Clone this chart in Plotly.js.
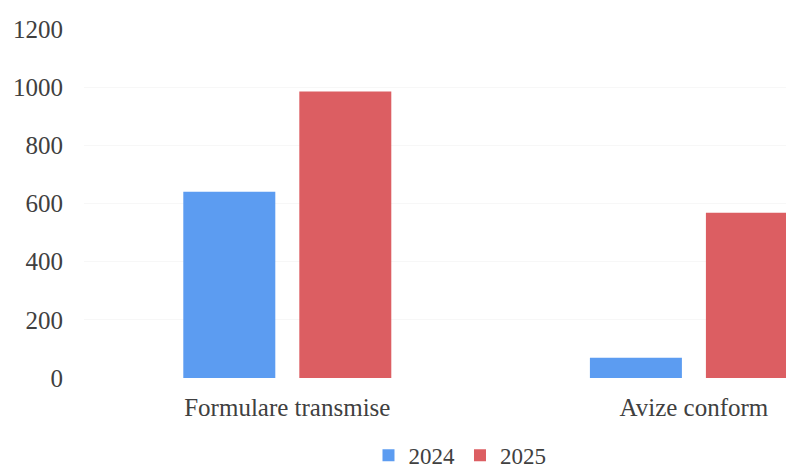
<!DOCTYPE html>
<html>
<head>
<meta charset="utf-8">
<script src="https://cdn.plot.ly/plotly-3.0.1.min.js"></script>
<style>
  html, body { margin: 0; padding: 0; background: #ffffff; overflow: hidden; }
  #chart { width: 786px; height: 469px; }
</style>
</head>
<body>
<div id="chart"></div>
<script>
const categories = ["Formulare transmise", "Avize conform"];
const series2024 = [640, 70];
const series2025 = [985, 568];
const yTicks = [0, 200, 400, 600, 800, 1000, 1200];

const font = { family: "Liberation Serif, DejaVu Serif, serif", size: 25, color: "#404040" };

const data = [
  { type: "bar", name: "2024", x: categories, y: series2024, marker: { color: "#5c9cf1" }, hoverinfo: "skip" },
  { type: "bar", name: "2025", x: categories, y: series2025, marker: { color: "#dc5e62" }, hoverinfo: "skip" }
];

const layout = {
  width: 786, height: 469,
  margin: { l: 84, r: 0, t: 29, b: 91, pad: 0, autoexpand: false },
  paper_bgcolor: "#ffffff", plot_bgcolor: "#ffffff",
  font: font,
  barmode: "group",
  bargap: 0.4294,
  bargroupgap: 0.207,
  showlegend: true,
  legend: {
    orientation: "h", x: 0.5356, xanchor: "center", y: -0.160, yanchor: "top",
    font: { family: font.family, size: 23, color: "#404040" },
    itemwidth: 30, traceorder: "normal"
  },
  xaxis: {
    type: "category", range: [-0.5, 1.2265],
    showgrid: false, zeroline: false, showline: false,
    ticks: "outside", ticklen: 7, tickcolor: "rgba(0,0,0,0)",
    tickfont: font
  },
  yaxis: {
    range: [0, 1200], tickvals: yTicks, ticktext: yTicks.map(String),
    showgrid: true, gridcolor: "#f7f7f7", zeroline: false, showline: false,
    ticks: "outside", ticklen: 15, tickcolor: "rgba(0,0,0,0)",
    tickfont: font
  }
};

Plotly.newPlot("chart", data, layout, { staticPlot: true, displayModeBar: false });
</script>
</body>
</html>
